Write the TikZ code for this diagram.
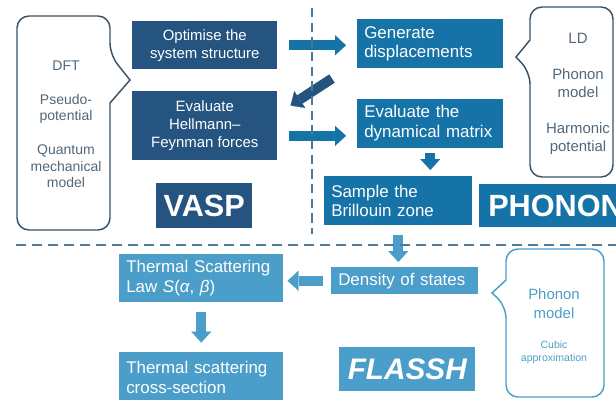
\documentclass[tikz,border=0pt]{standalone}
\usepackage{fontspec}
\setmainfont{Liberation Sans}
\usetikzlibrary{arrows.meta, positioning, calc}

\definecolor{vaspblue}{HTML}{24547F}
\definecolor{phononblue}{HTML}{1673A8}
\definecolor{flasshblue}{HTML}{4B9EC9}
\definecolor{calloutline}{HTML}{3A5266}
\definecolor{callouttext}{HTML}{51677A}
\definecolor{dividerblue}{HTML}{4F7896}

\begin{document}
\begin{tikzpicture}[
    x=0.75pt, y=-0.75pt,
    vasp/.style={rectangle, fill=vaspblue, text=white, minimum width=108.75pt, align=center, inner sep=0pt, font=\fontsize{11.2}{13.5}\selectfont},
    phonon/.style={rectangle, fill=phononblue, text=white, inner xsep=5.25pt, inner ysep=0pt, align=left, font=\fontsize{12.7}{14.6}\selectfont},
    flassh/.style={rectangle, fill=flasshblue, text=white, inner xsep=5.25pt, inner ysep=0pt, align=left, font=\fontsize{12.7}{15}\selectfont},
    toolname/.style={rectangle, text=white, inner sep=0pt, font=\fontsize{23}{26}\selectfont\bfseries},
    callout/.style={line width=1.1pt, rounded corners=9pt},
    arrow/.style={line width=7.5pt, -{Triangle[width=15pt, length=8.25pt, line width=0.1pt]}},
    divider/.style={draw=dividerblue, line width=1.5pt, dash pattern=on 7pt off 4pt}
]
\useasboundingbox (0,0) rectangle (616,399);
\clip (0,0) rectangle (616,399);

% VASP side
\node[vasp, minimum height=36pt, anchor=north west] (opt) at (132,21) {Optimise the\\system structure};
\node[vasp, minimum height=51.75pt, below=15.75pt of opt] (hf) {Evaluate\\Hellmann--\\Feynman forces};
\node[toolname, fill=vaspblue, minimum width=72pt, minimum height=33.75pt, anchor=north west] (vaspname) at (156,183) {VASP};

% PHONON side
\node[phonon, text width=99pt, minimum height=36.75pt, anchor=north west] (gen) at (357,19) {Generate\\displacements};
\node[phonon, text width=99pt, minimum height=36.75pt, below=22.5pt of gen] (dyn) {Evaluate the\\dynamical matrix};
\node[phonon, text width=100.5pt, minimum height=36.75pt, anchor=north west] (sample) at (324,176) {Sample the\\Brillouin zone};
\node[toolname, fill=phononblue, text width=106.5pt, inner xsep=6.75pt, align=left, minimum height=32.25pt, anchor=north west] (phononname) at (479,184) {PHONON};

% FLASSH side
\node[flassh, text width=112.5pt, minimum height=36pt, anchor=north west] (tsl) at (119,254) {Thermal Scattering\\Law \textit{S}(\textit{α}, \textit{β})};
\node[flassh, text width=112.5pt, minimum height=39pt, below=36.75pt of tsl] (xs) {Thermal scattering\\cross-section};
\node[flassh, text width=99.75pt, minimum height=20.25pt, anchor=north west] (dos) at (331,267) {Density of states};
\node[toolname, fill=flasshblue, font=\fontsize{22.3}{25}\selectfont\bfseries\itshape, minimum width=102pt, minimum height=33pt, anchor=north west] (flasshname) at (339,347) {FLASSH};

% callouts
\draw[callout, draw=calloutline] (60,16) -- (110,16) -- (110,55) [sharp corners] -- (130,80) -- (110,103) [rounded corners=9pt] -- (110,230) -- (17,230) -- (17,16) -- cycle;
\node[text=callouttext, align=center, font=\fontsize{10.5}{12.4}\selectfont] (dft) at (66,124.5) {DFT\\[13pt]Pseudo-\\potential\\[13pt]Quantum\\mechanical\\model};

\draw[callout, draw=calloutline] (570,7) -- (613,7) -- (613,177) -- (530,177) -- (530,72) [sharp corners] -- (516,57) -- (530,40) [rounded corners=9pt] -- (530,7) -- cycle;
\node[text=callouttext, align=center, font=\fontsize{11.2}{13.5}\selectfont] (ld) at (578,93.5) {LD\\[13.5pt]Phonon\\model\\[13.5pt]Harmonic\\potential};

\draw[callout, draw=flasshblue] (550,249) -- (604,249) -- (604,397) -- (506,397) -- (506,306) [sharp corners] -- (492,293) -- (506,280) [rounded corners=9pt] -- (506,249) -- cycle;
\node[text=flasshblue, align=center, font=\fontsize{11.2}{14.25}\selectfont] (phmodel) at (554,303.5) {Phonon\\model};
\node[text=flasshblue, align=center, font=\fontsize{7.9}{9.75}\selectfont] (cubic) at (554,352.5) {Cubic\\approximation};

% arrows
\coordinate (hfout) at ([yshift=-7.9pt]hf.east);
\draw[arrow, phononblue, shorten <=8.25pt, shorten >=8.25pt] (opt.east) -- (opt.east -| gen.west);
\draw[arrow, phononblue, shorten <=8.25pt, shorten >=8.25pt] (hfout) -- (hfout -| dyn.west);
\draw[arrow, vaspblue] ([xshift=-18.75pt, yshift=-7.5pt]gen.south west) -- ([xshift=9.75pt, yshift=-11.25pt]hf.north east);
\draw[arrow, phononblue, shorten <=3.75pt, shorten >=4.5pt] (dyn.south) -- (dyn.south |- sample.north);
\draw[arrow, flasshblue, shorten <=6.75pt, shorten >=3.75pt] (sample.south) -- (sample.south |- dos.north);
\draw[arrow, flasshblue, shorten <=6pt, shorten >=3pt] (dos.west) -- (dos.west -| tsl.east);
\draw[arrow, flasshblue, shorten <=6.75pt, shorten >=6.75pt] (tsl.south) -- (xs.north);

% dividers
\draw[divider] (312,8) -- (312,234);
\draw[divider, dash pattern=on 7.5pt off 4.5pt] (16,245) -- (616,245);

\end{tikzpicture}
\end{document}
